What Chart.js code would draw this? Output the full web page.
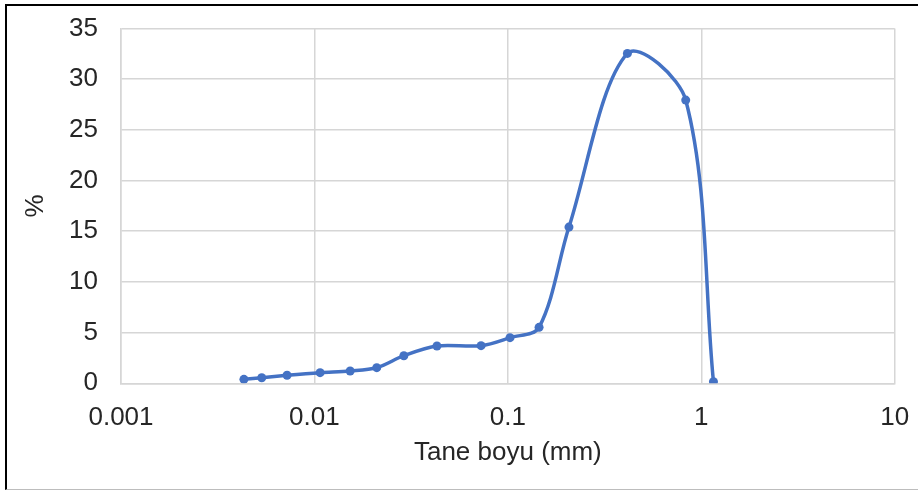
<!DOCTYPE html>
<html>
<head>
<meta charset="utf-8">
<script src="https://cdn.jsdelivr.net/npm/chart.js@4.4.1/dist/chart.umd.min.js"></script>
<style>
  html, body { margin: 0; padding: 0; background: #fff; }
  #wrap { position: relative; width: 918px; height: 492px; overflow: hidden; background: #fff; }
  #frame { position: absolute; left: 5px; top: 4px; width: 913px; height: 486px;
           border-top: 2px solid #000; border-left: 2px solid #000; border-bottom: 1px solid #bdbdbd;
           box-sizing: border-box; pointer-events: none; }
  canvas { position: absolute; left: 0; top: 0; }
</style>
</head>
<body>
<div id="wrap">
  <canvas id="c" width="918" height="492"></canvas>
  <div id="frame"></div>
</div>
<script>
// Grain size (mm) and percent values
const grainSizes = [0.00432, 0.00534, 0.00722, 0.0107, 0.0153, 0.0210, 0.0290, 0.0430, 0.0727, 0.1026, 0.145, 0.207, 0.415, 0.831, 1.156];
const percents   = [0.39, 0.55, 0.79, 1.05, 1.21, 1.54, 2.72, 3.68, 3.71, 4.5, 5.52, 15.41, 32.54, 27.94, 0.16];
const xTickValues = [0.001, 0.01, 0.1, 1, 10];
const yMin = 0, yMax = 35, yStep = 5;
const xTitle = 'Tane boyu (mm)';
const yTitle = '%';

const points = grainSizes.map((x, i) => ({ x: x, y: percents[i] }));
const blue = '#4472C4';
const gridColor = '#d6d6d6';
const textColor = '#262626';
const fontFamily = '"Liberation Sans", Arial, Helvetica, sans-serif';

new Chart(document.getElementById('c'), {
  type: 'line',
  data: {
    datasets: [{
      data: points,
      borderColor: blue,
      backgroundColor: blue,
      borderWidth: 3.5,
      pointRadius: 4.5,
      pointHoverRadius: 4.5,
      pointBackgroundColor: blue,
      pointBorderColor: blue,
      pointBorderWidth: 0,
      tension: 0.33,
      fill: false
    }]
  },
  options: {
    responsive: false,
    animation: false,
    devicePixelRatio: 1,
    layout: { padding: { left: 0, top: 28.5, right: 23.3, bottom: 0 } },
    plugins: { legend: { display: false }, tooltip: { enabled: false } },
    scales: {
      x: {
        type: 'logarithmic',
        min: 0.001,
        max: 10,
        afterBuildTicks: (scale) => { scale.ticks = xTickValues.map(v => ({ value: v, major: true })); },
        afterFit: (scale) => {
          scale.height = 108.7;
          scale.paddingLeft = 0; scale.paddingRight = 0;
        },
        ticks: {
          autoSkip: false,
          maxRotation: 0,
          padding: 19,
          color: textColor,
          font: { family: fontFamily, size: 26 },
          callback: (v) => String(v)
        },
        grid: { color: gridColor, lineWidth: 1.5, drawTicks: false },
        border: { color: gridColor, width: 1.5 },
        title: {
          display: true,
          text: xTitle,
          color: textColor,
          font: { family: fontFamily, size: 26 },
          padding: { top: 0, bottom: 23.4 }
        }
      },
      y: {
        min: yMin,
        max: yMax,
        afterFit: (scale) => {
          scale.width = 121;
          scale.paddingTop = 0; scale.paddingBottom = 0;
        },
        ticks: {
          stepSize: yStep,
          padding: 23,
          color: textColor,
          font: { family: fontFamily, size: 26 }
        },
        grid: { color: gridColor, lineWidth: 1.5, drawTicks: false },
        border: { color: gridColor, width: 1.5 },
        title: {
          display: true,
          text: yTitle,
          color: textColor,
          font: { family: fontFamily, size: 26 },
          padding: { top: 20, bottom: 0 }
        }
      }
    }
  }
});
</script>
</body>
</html>
